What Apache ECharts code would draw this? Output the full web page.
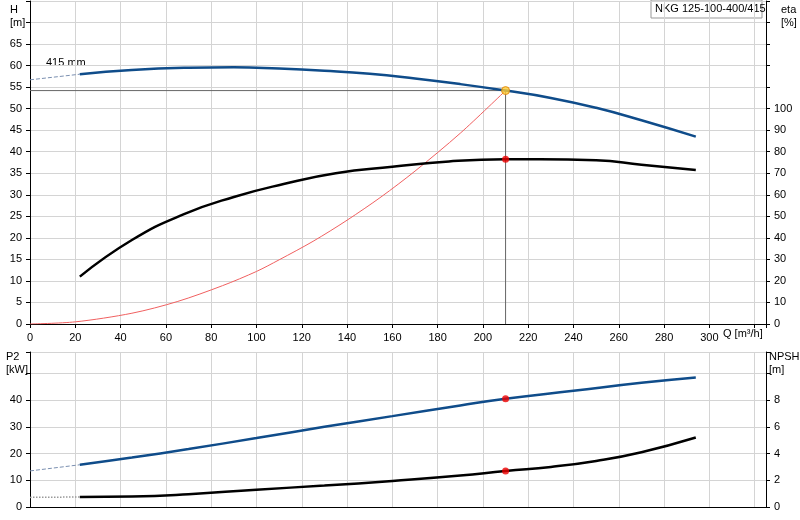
<!DOCTYPE html><html><head><meta charset="utf-8"><script src="https://cdn.jsdelivr.net/npm/echarts@6/dist/echarts.min.js"></script></head><body style="margin:0"><div id="c" style="width:800px;height:520px"></div><script>
const headQ=[22,45,70,90,110,130,150,170,190,210,230,250,270,294];
const headH=[58,59,59.5,59.6,59.3,58.8,58.1,57,55.7,54.2,52.5,50.2,47.3,43.5];
const headExt=[[0,56.7],[22,58]];
const etaQ=[22,45,68,90,112,135,160,185,210,225,250,270,294];
const etaV=[22,39,51,59,65,70,73,75.5,76.5,76.5,76,74,71.5];
const sysQ=[0,20,45,65,85,100,110,125,140,155,170,190,210];
const sysH=[0,0.5,2.5,5.2,8.9,12.2,14.9,19.2,24.1,29.5,35.5,44.3,54.2];
const p2Q=[22,45,70,100,130,160,190,210,240,270,294];
const p2V=[15.8,18.5,21.7,25.8,30,34,38,40.5,43.5,46.5,48.5];
const p2Ext=[[0,13.5],[22,15.8]];
const npQ=[22,45,70,100,130,160,190,210,230,250,270,294];
const npV=[0.75,0.78,0.95,1.3,1.6,1.95,2.35,2.7,3.0,3.45,4.1,5.2];
const npExt=[[0,0.72],[22,0.75]];
const dutyQ=210, dutyH=54.2, dutyEta=76.5, dutyP2=40.5, dutyNp=2.7;
const z=(a,b)=>a.map((q,i)=>[q,b[i]]);
const F='Liberation Sans, Arial, sans-serif';
const lab={fontFamily:F,fontSize:11,color:'#000'};
const gl={lineStyle:{color:'#d4d4d4'}};
const ax={lineStyle:{color:'#000'}};
function xa(i,show){return {type:'value',gridIndex:i,min:0,max:325,interval:20,axisLine:{show:true,onZero:false,...ax},axisTick:{show:show,length:4,...ax},axisLabel:{show:show,...lab,formatter:v=>v>300?'':v},splitLine:{show:true,...gl}};}
function ya(i,pos,max,int,lim,split){return {type:'value',gridIndex:i,position:pos,min:0,max:max,interval:int,axisLine:{show:true,...ax},axisTick:{show:true,length:4,...ax},axisLabel:{...lab,formatter:v=>v>lim?'':v},splitLine:{show:split,...gl}};}
const c=echarts.init(document.getElementById('c'));
c.setOption({animation:false,
grid:[{left:30,right:34,top:1,height:323},{left:30,right:34,top:352,height:155}],
xAxis:[xa(0,true),xa(1,false)],
yAxis:[ya(0,'left',75,5,65,true),ya(0,'right',150,10,100,false),ya(1,'left',58,10,40,true),ya(1,'right',11.6,2,8,false)],
graphic:[
{type:'text',left:10,top:3,style:{text:'H\n[m]',font:'11px '+F,lineHeight:13,align:'left'}},
{type:'text',left:781,top:3,style:{text:'eta\n[%]',font:'11px '+F,lineHeight:13}},
{type:'text',left:723,top:328,style:{text:'Q [m³/h]',font:'11px '+F}},
{type:'text',left:6,top:350,style:{text:'P2\n[kW]',font:'11px '+F,lineHeight:13}},
{type:'text',left:769,top:350,style:{text:'NPSH\n[m]',font:'11px '+F,lineHeight:13}},
{type:'text',left:46,top:57,style:{text:'415 mm',font:'11px '+F}},
{type:'rect',shape:{x:651,y:0,width:111,height:18},style:{fill:'#fff',stroke:'#999'}},
{type:'text',left:655,top:3,style:{text:'NKG 125-100-400/415',font:'11px '+F}}
],
series:[
{type:'line',xAxisIndex:0,yAxisIndex:0,data:[[0,dutyH],[dutyQ,dutyH],[dutyQ,0]],symbol:'none',lineStyle:{color:'#666',width:1}},
{type:'line',xAxisIndex:0,yAxisIndex:0,data:z(sysQ,sysH),symbol:'none',smooth:0.3,lineStyle:{color:'#f06060',width:1}},
{type:'line',xAxisIndex:0,yAxisIndex:0,data:headExt,symbol:'none',lineStyle:{color:'#7a8fb0',width:1,type:'dashed'}},
{type:'line',xAxisIndex:0,yAxisIndex:0,data:z(headQ,headH),symbol:'none',smooth:true,lineStyle:{color:'#0f4c8a',width:2.5}},
{type:'line',xAxisIndex:0,yAxisIndex:1,data:z(etaQ,etaV),symbol:'none',smooth:true,lineStyle:{color:'#000',width:2.5}},
{type:'scatter',xAxisIndex:0,yAxisIndex:0,data:[[dutyQ,dutyH]],symbolSize:8,itemStyle:{color:'#ffcc33',borderColor:'#e08000',borderWidth:1},z:5},
{type:'scatter',xAxisIndex:0,yAxisIndex:1,data:[[dutyQ,dutyEta]],symbolSize:7,itemStyle:{color:'#ee0000'},z:5},
{type:'line',xAxisIndex:1,yAxisIndex:2,data:p2Ext,symbol:'none',lineStyle:{color:'#7a8fb0',width:1,type:'dashed'}},
{type:'line',xAxisIndex:1,yAxisIndex:2,data:z(p2Q,p2V),symbol:'none',smooth:true,lineStyle:{color:'#0f4c8a',width:2.5}},
{type:'line',xAxisIndex:1,yAxisIndex:3,data:npExt,symbol:'none',lineStyle:{color:'#999',width:1.5,type:'dotted'}},
{type:'line',xAxisIndex:1,yAxisIndex:3,data:z(npQ,npV),symbol:'none',smooth:true,lineStyle:{color:'#000',width:2.5}},
{type:'scatter',xAxisIndex:1,yAxisIndex:2,data:[[dutyQ,dutyP2]],symbolSize:7,itemStyle:{color:'#ee0000'},z:5},
{type:'scatter',xAxisIndex:1,yAxisIndex:3,data:[[dutyQ,dutyNp]],symbolSize:7,itemStyle:{color:'#ee0000'},z:5}
]});
</script></body></html>
